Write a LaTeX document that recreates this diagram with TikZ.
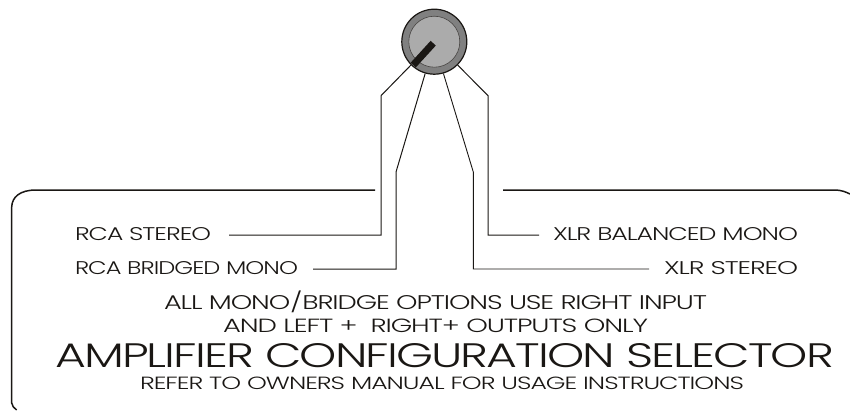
\documentclass[tikz,border=0pt]{standalone}
\usepackage{fontspec}
\usepackage{graphicx}
\setmainfont{Poppins}[UprightFont=* Light,LetterSpace=-4]
\definecolor{ink}{HTML}{1A1714}
\definecolor{ringgray}{HTML}{808080}
\definecolor{facegray}{HTML}{ABABAB}
\newcommand{\fitlabel}[3]{\resizebox{#1pt}{#2pt}{#3}}
\newcommand{\flatslash}{\raisebox{0pt}[0pt][0pt]{/}}
\tikzset{
  x=1pt,y=-1pt,
  caption/.style={anchor=base west,inner sep=0pt,outer sep=0pt,text=ink},
  panel/.style={draw=ink,line width=1.5pt,line cap=butt},
  wire/.style={draw=ink,line width=1pt,line join=miter},
  wirefine/.style={draw=ink,line width=0.9pt,line join=miter},
  knobring/.style={circle,draw=ink,fill=ringgray,line width=1.2pt,minimum size=65pt,inner sep=0pt},
  knobface/.style={circle,draw=ink!80,fill=facegray,line width=0.6pt,minimum size=51pt,inner sep=0pt},
  pointer/.style={draw=ink,line width=7pt,line cap=butt}
}
\begin{document}
\begin{tikzpicture}
\useasboundingbox (0,0) rectangle (850,410);
% knob
\node[knobring] (knob) at (434.3,41.7) {};
\node[knobface] (face) at (434.3,41.7) {};
\coordinate (ptrtip) at (433.2,43.2);
\coordinate (ptrbase) at (413.3,65);
\draw[pointer] (ptrtip) -- (ptrbase);
% labels
\node[caption] (rcas) at (75,240) {\fitlabel{136}{13}{RCA STEREO}};
\node[caption] (rcab) at (75,274.5) {\fitlabel{223}{13}{RCA BRIDGED MONO}};
\node[caption] (xlrb) at (553,240) {\fitlabel{245}{13}{XLR BALANCED MONO}};
\node[caption] (xlrs) at (664,274.5) {\fitlabel{134}{13}{XLR STEREO}};
\node[caption] (note1) at (164,309) {\fitlabel{543}{14}{ALL MONO\flatslash BRIDGE OPTIONS USE RIGHT INPUT}};
\node[caption] (note2) at (223,332.5) {\fitlabel{425}{13.5}{AND LEFT +\ \ RIGHT+ OUTPUTS ONLY}};
\node[caption] (title) at (55,367) {\fitlabel{779}{24}{AMPLIFIER CONFIGURATION SELECTOR}};
\node[caption] (refer) at (140,389.5) {\fitlabel{604}{12.5}{REFER TO OWNERS MANUAL FOR USAGE INSTRUCTIONS}};
% wire route points
\coordinate (w1a) at (381,95.7);
\coordinate (w1b) at (381,235);
\coordinate (w1c) at (229,235);
\coordinate (w2a) at (396,172);
\coordinate (w2b) at (396,269);
\coordinate (w2c) at (313,269);
\coordinate (w3a) at (473.3,172);
\coordinate (w3b) at (473.3,269);
\coordinate (w3c) at (649,269);
\coordinate (w4a) at (488,95.7);
\coordinate (w4b) at (488,235);
\coordinate (w4c) at (539,235);
\draw[wire] (knob.225) -- (w1a) -- (w1b) -- (w1c);
\draw[wire] (knob.254) -- (w2a) -- (w2b) -- (w2c);
\draw[wirefine] (knob.286) -- (w3a) -- (w3b) -- (w3c);
\draw[wire] (knob.315) -- (w4a) -- (w4b) -- (w4c);
% panel
\coordinate (pl) at (375,190);
\coordinate (pr) at (503,190);
\draw[panel] (pl) -- (36,190) .. controls (20,190) and (12,197) .. (11.7,207) -- (11.7,403) .. controls (12,406) and (14,408) .. (16.7,410);
\draw[panel] (pr) -- (835,190) .. controls (841,190) and (846,192) .. (850,194);
\end{tikzpicture}
\end{document}
